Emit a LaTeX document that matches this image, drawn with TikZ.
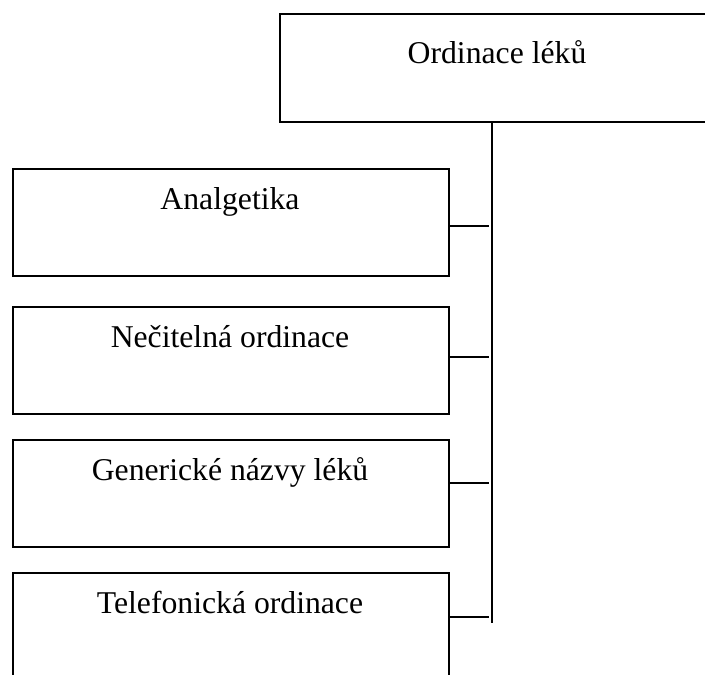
\documentclass[tikz,border=0pt]{standalone}
\usepackage{fontspec}
\setmainfont{Liberation Serif}
\begin{document}
\begin{tikzpicture}[x=1pt,y=-1pt,
  box/.style={draw=black, line width=2.2pt, anchor=north west, inner sep=0pt},
  label/.style={anchor=base, inner sep=0pt, font=\fontsize{31.7}{38}\selectfont},
  link/.style={draw=black, line width=2.1pt}]
  \useasboundingbox (0,0) rectangle (705,675);
  \clip (0,0) rectangle (705,675);

  % root box (runs past the right edge)
  \node[box, minimum width=441pt, minimum height=108pt] (root) at (279,13) {};
  \node[label] (rootT) at (497,63) {Ordinace léků};

  % child boxes
  \node[box, minimum width=436pt, minimum height=107pt] (b1) at (12,168) {};
  \node[label] (t1) at (230,209) {Analgetika};
  \node[box, minimum width=436pt, minimum height=107pt] (b2) at (12,306) {};
  \node[label] (t2) at (230,347) {Nečitelná ordinace};
  \node[box, minimum width=436pt, minimum height=107pt] (b3) at (12,439) {};
  \node[label] (t3) at (230,480) {Generické názvy léků};
  \node[box, minimum width=436pt, minimum height=120pt] (b4) at (12,572) {};
  \node[label] (t4) at (230,613) {Telefonická ordinace};

  % trunk line
  \coordinate (trunkEnd) at (492,623);
  \draw[link] (root.south -| trunkEnd) -- (trunkEnd);

  % branch ticks
  \coordinate (e1) at (489,226);
  \coordinate (e2) at (489,357);
  \coordinate (e3) at (489,483);
  \coordinate (e4) at (489,617);
  \draw[link] (b1.east |- e1) -- (e1);
  \draw[link] (b2.east |- e2) -- (e2);
  \draw[link] (b3.east |- e3) -- (e3);
  \draw[link] (b4.east |- e4) -- (e4);
\end{tikzpicture}
\end{document}
